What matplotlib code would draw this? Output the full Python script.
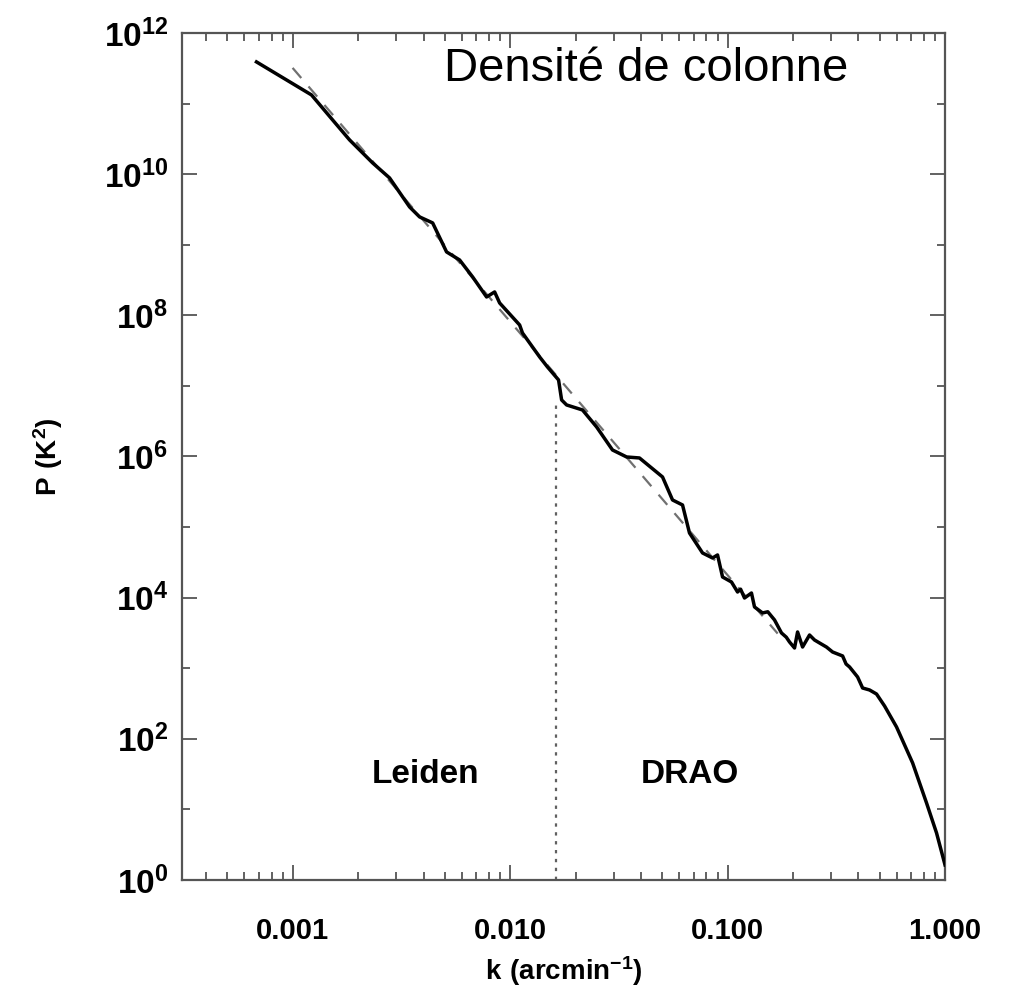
import matplotlib
matplotlib.use("Agg")
import numpy as np
import matplotlib.pyplot as plt
from matplotlib.ticker import FixedLocator, FixedFormatter, LogLocator, NullFormatter

plt.rcParams["font.family"] = ["Liberation Sans", "DejaVu Sans"]
plt.rcParams["mathtext.fontset"] = "custom"
plt.rcParams["mathtext.rm"] = "Liberation Sans"
plt.rcParams["mathtext.bf"] = "Liberation Sans:bold"

# spectrum (log10 k [arcmin^-1], log10 P [K^2])
log_k = [-3.166, -2.913, -2.816, -2.738, -2.632, -2.554, -2.462, -2.416, -2.356,
         -2.292, -2.232, -2.172, -2.108, -2.071, -2.048, -1.956, -1.943, -1.864,
         -1.828, -1.777, -1.763, -1.740, -1.667, -1.602, -1.529, -1.464, -1.405,
         -1.299, -1.253, -1.207, -1.175, -1.115, -1.069, -1.046, -1.023, -0.982,
         -0.954, -0.940, -0.922, -0.890, -0.876, -0.839, -0.815, -0.784, -0.752,
         -0.730, -0.715, -0.692, -0.678, -0.655, -0.623, -0.600, -0.577, -0.545,
         -0.517, -0.471, -0.455, -0.439, -0.402, -0.379, -0.347, -0.315, -0.278,
         -0.223, -0.149, -0.085, -0.039, 0.000]
log_P = [11.590, 11.122, 10.768, 10.485, 10.159, 9.946, 9.535, 9.394, 9.309,
         8.898, 8.784, 8.543, 8.260, 8.331, 8.175, 7.863, 7.750, 7.410,
         7.268, 7.084, 6.801, 6.730, 6.659, 6.418, 6.092, 5.993, 5.979,
         5.710, 5.384, 5.313, 4.916, 4.633, 4.562, 4.605, 4.293, 4.222,
         4.080, 4.120, 3.995, 4.066, 3.868, 3.783, 3.800, 3.684, 3.500,
         3.440, 3.372, 3.287, 3.514, 3.301, 3.471, 3.400, 3.358, 3.300,
         3.230, 3.174, 3.060, 3.018, 2.876, 2.720, 2.692, 2.635, 2.465,
         2.168, 1.658, 1.091, 0.666, 0.213]

# power-law fit (dashed)
fit_k = [0.001, 0.17]
fit_P = [3.2e11, 3.1e3]

# Leiden / DRAO boundary
split_k = 0.0162
split_P = [1.0, 5.7e6]

xticks = [0.001, 0.01, 0.1, 1.0]
xticklabels = ["0.001", "0.010", "0.100", "1.000"]
yexp = [0, 2, 4, 6, 8, 10, 12]

k = 10.0 ** np.array(log_k)
P = 10.0 ** np.array(log_P)

fig = plt.figure(figsize=(10.2, 9.93), dpi=100)
ax = fig.add_axes([0.1784, 0.1138, 0.7481, 0.853])
ax.set_xscale("log")
ax.set_yscale("log")
ax.set_xlim(3.1e-4, 1.0)
ax.set_ylim(1.0, 1e12)

ax.plot(fit_k, fit_P, color="#707070", lw=1.6, ls=(0, (6, 5)), zorder=2)
ax.plot([split_k, split_k], split_P, color="#606060", lw=1.6, ls=(0, (1.5, 2.5)), zorder=2)
ax.plot(k, P, color="black", lw=2.5, zorder=3)

# ticks
ax.xaxis.set_major_locator(FixedLocator(xticks))
ax.xaxis.set_major_formatter(FixedFormatter(xticklabels))
ax.xaxis.set_minor_locator(LogLocator(base=10, subs=np.arange(2, 10)))
ax.xaxis.set_minor_formatter(NullFormatter())
ax.yaxis.set_major_locator(FixedLocator([10.0 ** e for e in yexp]))
ax.yaxis.set_major_formatter(FixedFormatter([r"$\mathbf{10^{%d}}$" % e for e in yexp]))
ax.yaxis.set_minor_locator(FixedLocator([10.0 ** e for e in range(1, 12, 2)]))
ax.yaxis.set_minor_formatter(NullFormatter())

ax.tick_params(which="both", direction="in", top=True, right=True, color="#555555", width=1.3)
ax.tick_params(which="major", length=11)
ax.tick_params(which="minor", length=6)
ax.tick_params(axis="x", which="major", pad=27, labelsize=21)
ax.tick_params(axis="y", which="major", pad=10, labelsize=24)
for lab in ax.get_xticklabels():
    lab.set_fontweight("bold")
for s in ax.spines.values():
    s.set_color("#555555")
    s.set_linewidth(1.6)

ax.set_xlabel(r"$\mathbf{k\ (arcmin^{-1})}$", fontsize=20, labelpad=6)
ax.set_ylabel(r"$\mathbf{P\ (K^{2})}$", fontsize=20, labelpad=28)

ax.text(0.00409, 31, "Leiden", ha="center", va="center", fontsize=24, fontweight="bold")
ax.text(0.0668, 31, "DRAO", ha="center", va="center", fontsize=24, fontweight="bold")
ax.text(0.608, 0.958, "Densité de colonne", transform=ax.transAxes, ha="center", va="center",
        fontsize=34, family=["Liberation Sans", "DejaVu Sans"])

fig.savefig("out.png", dpi=100)
